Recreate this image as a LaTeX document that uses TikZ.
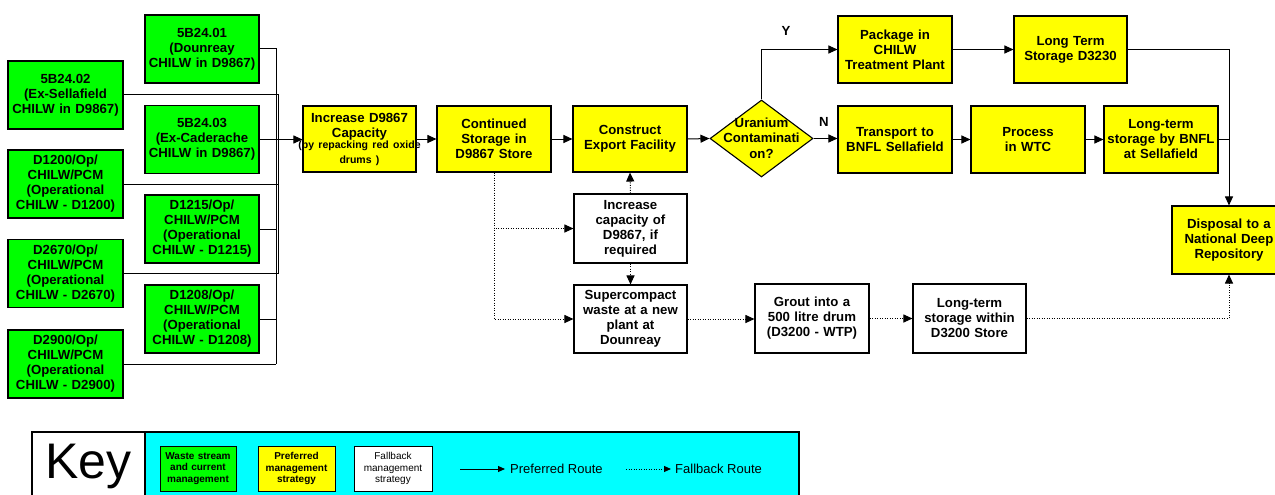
\documentclass[tikz,border=0pt]{standalone}
\usepackage{fontspec}
\setmainfont{Liberation Sans}
\usetikzlibrary{arrows.meta,shapes.geometric}
\definecolor{kgreen}{RGB}{0,255,0}
\definecolor{kyellow}{RGB}{255,255,0}
\definecolor{kcyan}{RGB}{0,255,255}
\tikzset{
  base/.style={draw, line width=1.1pt, inner sep=0pt, text width=114pt, minimum height=68pt, align=center, font=\bfseries\fontsize{13.2}{15}\selectfont},
  gbox/.style={base, fill=kgreen},
  ybox/.style={base, fill=kyellow},
  wbox/.style={base, fill=white},
  ln/.style={line width=1pt},
  arr/.style={line width=1pt, -{Triangle[length=9pt,width=8pt]}},
  farr/.style={line width=1pt, dash pattern=on 1pt off 1.5pt, -{Triangle[length=9pt,width=8pt]}},
  karr/.style={line width=1pt, -{Triangle[length=7pt,width=6pt]}},
  kfarr/.style={line width=1pt, dash pattern=on 1pt off 1.5pt, -{Triangle[length=7pt,width=6pt]}},
  kbox/.style={draw, line width=1pt, inner sep=0pt, text width=76pt, minimum height=45pt, align=center, font=\fontsize{10}{11.5}\selectfont},
  lbl/.style={font=\bfseries\fontsize{13.2}{15}\selectfont, inner sep=0pt},
}
\begin{document}
\begin{tikzpicture}[x=1pt,y=-1pt]
\useasboundingbox (0,0) rectangle (1275,495);
\clip (0,0) rectangle (1275,495);
% waste streams
\node[gbox] (s01) at (202,49) {5B24.01\\(Dounreay\\CHILW in D9867)};
\node[gbox, text width=115pt] (s02) at (65.5,95) {5B24.02\\(Ex-Sellafield\\CHILW in D9867)};
\node[gbox] (s03) at (202,139.5) {5B24.03\\(Ex-Caderache\\CHILW in D9867)};
\node[gbox, text width=115pt] (s1200) at (65.5,184) {D1200/Op/\\CHILW/PCM\\(Operational\\CHILW - D1200)};
\node[gbox] (s1215) at (202,229) {D1215/Op/\\CHILW/PCM\\(Operational\\CHILW - D1215)};
\node[gbox, text width=115pt] (s2670) at (65.5,273.5) {D2670/Op/\\CHILW/PCM\\(Operational\\CHILW - D2670)};
\node[gbox] (s1208) at (202,319) {D1208/Op/\\CHILW/PCM\\(Operational\\CHILW - D1208)};
\node[gbox, text width=115pt] (s2900) at (65.5,364) {D2900/Op/\\CHILW/PCM\\(Operational\\CHILW - D2900)};
% main flow
\node[ybox, text width=113pt, minimum height=66pt] (inc) at (359.5,139) {Increase D9867\\Capacity\\{\fontsize{10.5}{11}\selectfont\makebox[\linewidth]{(by repacking red oxide}\\drums )}};
\node[ybox, minimum height=66pt] (cont) at (494,139) {Continued\\Storage in\\D9867 Store};
\node[ybox, minimum height=66pt] (cons) at (630,139) {Construct\\Export Facility};
\node[diamond, draw, line width=1.1pt, fill=kyellow, minimum width=103pt, minimum height=77pt, inner sep=0pt] (dec) at (761.5,138.5) {};
\node[lbl, align=center, font=\bfseries\fontsize{13.2}{15.5}\selectfont] (dect) at (761.5,138) {Uranium\\Contaminati\\on?};
\node[ybox, minimum height=67pt] (pack) at (895,49.5) {Package in\\CHILW\\Treatment Plant};
\node[ybox, text width=113pt, minimum height=67pt] (lts) at (1070.5,49.5) {Long Term\\Storage D3230};
\node[ybox, minimum height=67pt] (trans) at (895,139.5) {Transport to\\BNFL Sellafield};
\node[ybox, minimum height=67pt] (proc) at (1028,139.5) {Process\\in WTC};
\node[ybox, minimum height=67pt] (bnfl) at (1161,139.5) {Long-term\\storage by BNFL\\at Sellafield};
\node[ybox] (disp) at (1229,240) {Disposal to a\\National Deep\\Repository};
% fallback
\node[wbox, text width=113pt, minimum height=69pt] (icap) at (630.5,228.5) {Increase\\capacity of\\D9867, if\\required};
\node[wbox, text width=113pt] (sup) at (630.5,319) {Supercompact\\waste at a new\\plant at\\Dounreay};
\node[wbox, minimum height=69pt] (grout) at (812,318.5) {Grout into a\\500 litre drum\\(D3200 - WTP)};
\node[wbox, text width=113pt, minimum height=69pt] (ltw) at (969.5,318.5) {Long-term\\storage within\\D3200 Store};
% bus
\coordinate (busA) at (276,49);
\coordinate (busB) at (278,95);
\draw[ln] (s01.east) -- (busA) -- (busA |- s2900.east);
\draw[ln] (s2900.east) -- (busA |- s2900.east);
\draw[ln] (s1215.east) -- (busA |- s1215.east);
\draw[ln] (s1208.east) -- (busA |- s1208.east);
\draw[ln] (s02.east) -- (busB) -- (busB |- s2670.east);
\draw[ln] (s1200.east) -- (busB |- s1200.east);
\draw[ln] (s2670.east) -- (busB |- s2670.east);
\draw[arr] (s03.east) -- (s03.east -| inc.west);
% preferred routes
\draw[arr] (inc) -- (cont);
\draw[arr] (cont) -- (cons);
\draw[arr] (cons.east) -- (dec.west);
\draw[arr] (dec.north) |- (pack.west);
\draw[arr] (dec.east) -- (dec.east -| trans.west);
\draw[arr] (pack) -- (lts);
\draw[arr] (trans) -- (proc);
\draw[arr] (proc) -- (bnfl);
\draw[arr] (lts.east) -| (disp.north);
\draw[ln] (bnfl.east) -- (bnfl.east -| disp.north);
\node[lbl] (ylab) at (786,31) {Y};
\node[lbl] (nlab) at (824,122) {N};
% fallback routes
\draw[farr] (cont.south) |- (icap.west);
\draw[farr] (cont.south) |- (sup.west);
\draw[farr] (icap.north) -- (cons.south);
\draw[farr] (icap.south) -- (sup.north);
\draw[farr] (sup.east) -- (sup.east -| grout.west);
\draw[farr] (grout.east) -- (grout.east -| ltw.west);
\draw[farr] (ltw.east) -| (disp.south);
% key
\node[draw, line width=1.1pt, fill=white, minimum width=113pt, minimum height=73pt, inner sep=0pt] (keyl) at (88.5,468.5) {};
\node[draw, line width=1.1pt, fill=kcyan, minimum width=654pt, minimum height=73pt, inner sep=0pt] (keyr) at (472,468.5) {};
\node[font=\fontsize{50}{50}\selectfont, inner sep=0pt] (keyt) at (88.5,466) {Key};
\node[kbox, fill=kgreen, font=\bfseries\fontsize{10}{11.5}\selectfont] (kg) at (198,468.5) {Waste stream\\and current\\management};
\node[kbox, fill=kyellow, text width=77pt, font=\bfseries\fontsize{10}{11.5}\selectfont] (ky) at (296.5,468.5) {Preferred\\management\\strategy};
\node[kbox, fill=white, text width=78pt] (kw) at (393,468.5) {Fallback\\management\\strategy};
\coordinate (pa) at (460,469);
\coordinate (pb) at (505,469);
\draw[karr] (pa) -- (pb);
\node[anchor=west, inner sep=0pt, font=\fontsize{13}{15}\selectfont] (pt) at (510,469) {Preferred Route};
\coordinate (fa) at (626,469);
\coordinate (fb) at (671,469);
\draw[kfarr] (fa) -- (fb);
\node[anchor=west, inner sep=0pt, font=\fontsize{13}{15}\selectfont] (ft) at (675,469) {Fallback Route};
\end{tikzpicture}
\end{document}
